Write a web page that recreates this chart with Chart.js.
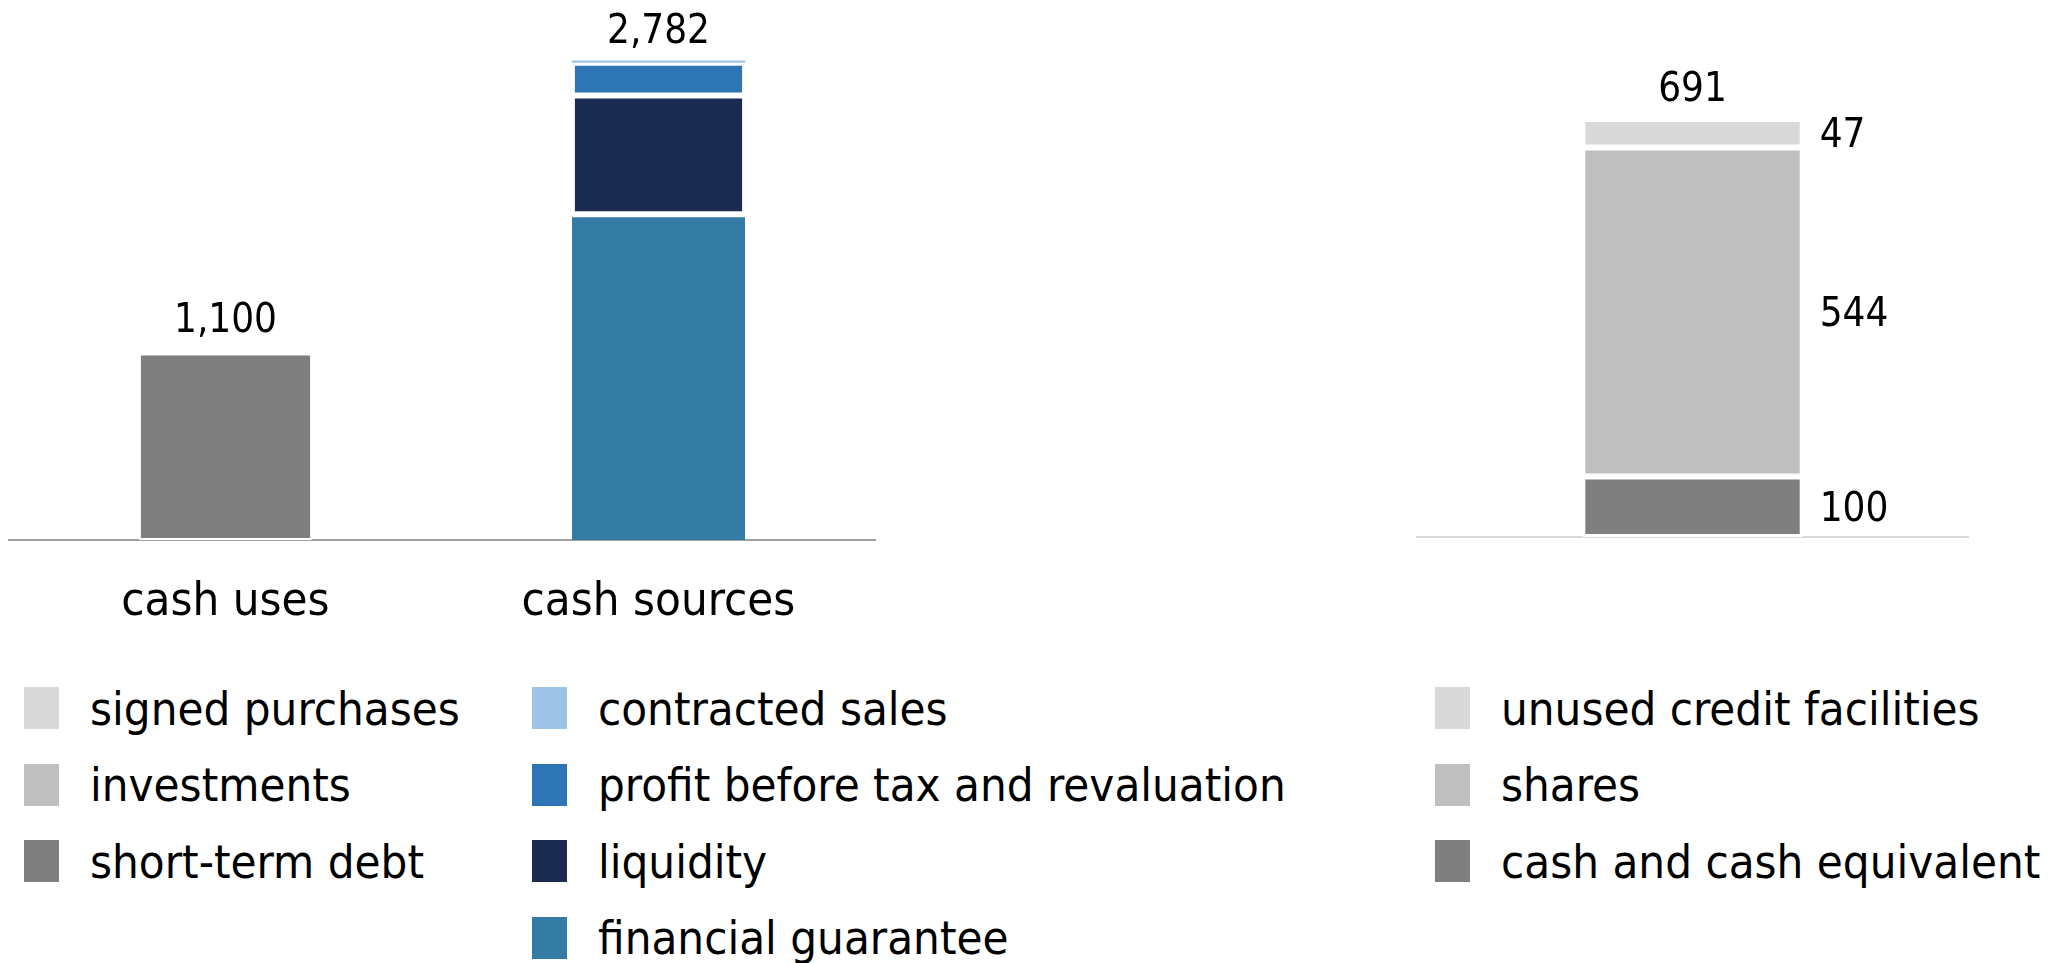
<!DOCTYPE html>
<html>
<head>
<meta charset="utf-8">
<title>Cash uses and sources</title>
<script src="https://cdn.jsdelivr.net/npm/chart.js@4.4.1/dist/chart.umd.min.js"></script>
<style>
    body { margin: 0; background: #fff; width: 2061px; height: 963px; overflow: hidden; position: relative; }
    canvas { position: absolute; top: 0; }
    #left-chart { left: 0; }
    #right-chart { left: 1400px; }
    .legend { position: absolute; top: 687px; font-family: 'DejaVu Sans Condensed', 'DejaVu Sans', sans-serif; font-stretch: condensed; font-size: 47px; color: #000; }
    .legend .item { display: flex; align-items: center; height: 42px; margin-bottom: 34.5px; white-space: nowrap; line-height: 1; }
    .legend .sw { width: 35px; height: 42px; margin-right: 31px; flex: none; }
</style>
</head>
<body>
<canvas id="left-chart" width="890" height="650"></canvas>
<canvas id="right-chart" width="661" height="560"></canvas>
<div class="legend" id="legend-uses" style="left:24px"></div>
<div class="legend" id="legend-sources" style="left:532px"></div>
<div class="legend" id="legend-liquid" style="left:1435px"></div>

<script>
// left chart: cash uses vs cash sources
const leftCategories = ['cash uses', 'cash sources'];
const signedPurchases = [null, null];
const investments = [null, null];
const shortTermDebt = [1100, null];
const contractedSales = [null, 12];
const profitBeforeTax = [null, 190];
const liquidity = [null, 690];
const financialGuarantee = [null, 1890];

// right chart: available liquid resources
const rightCategories = [''];
const cashEquivalent = [100];
const shares = [544];
const unusedCredit = [47];

const FONT = "'DejaVu Sans Condensed', 'DejaVu Sans', sans-serif";

function fmt(v) {
    return v.toLocaleString('en-US');
}

// total on top of each stacked column
const totalsPlugin = {
    id: 'totals',
    afterDatasetsDraw(chart) {
        const ctx = chart.ctx;
        const yScale = chart.scales.y;
        const n = chart.data.labels.length;
        ctx.save();
        ctx.font = '40px ' + FONT;
        ctx.fillStyle = '#000';
        ctx.textAlign = 'center';
        ctx.textBaseline = 'alphabetic';
        for (let i = 0; i < n; i++) {
            let sum = 0;
            chart.data.datasets.forEach(ds => { sum += ds.data[i] || 0; });
            if (!sum) continue;
            const x = chart.scales.x.getPixelForValue(i);
            const top = yScale.getPixelForValue(sum);
            ctx.fillText(fmt(sum), x, top - 18);
        }
        ctx.restore();
    }
};

// value of every segment written to the right of the column
const segmentLabels = {
    id: 'segmentLabels',
    afterDatasetsDraw(chart) {
        const ctx = chart.ctx;
        ctx.save();
        ctx.font = '40px ' + FONT;
        ctx.fillStyle = '#000';
        ctx.textAlign = 'left';
        ctx.textBaseline = 'alphabetic';
        chart.data.datasets.forEach((ds, di) => {
            const meta = chart.getDatasetMeta(di);
            meta.data.forEach((bar, i) => {
                if (ds.data[i] == null) return;
                const mid = (bar.y + bar.base) / 2;
                ctx.fillText(fmt(ds.data[i]), bar.x + bar.width / 2 + 17, mid + 14);
            });
        });
        ctx.restore();
    }
};

const white = '#ffffff';
const allSides = { top: 3, bottom: 3, left: 3, right: 3 };

const leftDatasets = [
    { label: 'financial guarantee', data: financialGuarantee, backgroundColor: '#347ca3', borderColor: white, borderWidth: { top: 3, bottom: 0, left: 0, right: 0 } },
    { label: 'liquidity', data: liquidity, backgroundColor: '#1b2a51', borderColor: white, borderWidth: allSides },
    { label: 'profit before tax and revaluation', data: profitBeforeTax, backgroundColor: '#2e75b6', borderColor: white, borderWidth: allSides },
    { label: 'contracted sales', data: contractedSales, backgroundColor: '#9dc3e6', borderWidth: 0 },
    { label: 'short-term debt', data: shortTermDebt, backgroundColor: '#7f7f7f', borderColor: white, borderWidth: { top: 5, bottom: 2, left: 2, right: 2 } },
    { label: 'investments', data: investments, backgroundColor: '#bfbfbf', borderColor: white, borderWidth: allSides },
    { label: 'signed purchases', data: signedPurchases, backgroundColor: '#d9d9d9', borderColor: white, borderWidth: allSides }
];

const rightDatasets = [
    { label: 'cash and cash equivalent', data: cashEquivalent, backgroundColor: '#7f7f7f', borderColor: white, borderWidth: allSides },
    { label: 'shares', data: shares, backgroundColor: '#bfbfbf', borderColor: white, borderWidth: allSides },
    { label: 'unused credit facilities', data: unusedCredit, backgroundColor: '#d9d9d9', borderColor: white, borderWidth: allSides }
];

[...leftDatasets, ...rightDatasets].forEach(ds => {
    ds.borderSkipped = false;
    ds.barPercentage = 0.4;
    ds.categoryPercentage = 1;
});

const leftChart = new Chart(document.getElementById('left-chart'), {
    type: 'bar',
    data: { labels: leftCategories, datasets: leftDatasets },
    options: {
        responsive: false,
        animation: false,
        layout: { padding: { left: 9, right: 15, top: 23, bottom: 10 } },
        plugins: { legend: { display: false }, tooltip: { enabled: false } },
        scales: {
            x: {
                stacked: true,
                grid: { display: false, drawTicks: false },
                border: { color: '#a0a0a0', width: 2 },
                ticks: { color: '#000', font: { family: FONT, size: 47 }, padding: 35 },
                afterFit: function(scale) { scale.height = 100; }
            },
            y: { stacked: true, display: false, min: 0, max: 3000 }
        }
    },
    plugins: [totalsPlugin]
});

const rightChart = new Chart(document.getElementById('right-chart'), {
    type: 'bar',
    data: { labels: rightCategories, datasets: rightDatasets },
    options: {
        responsive: false,
        animation: false,
        layout: { padding: { left: 17, right: 93, top: 53, bottom: 23 } },
        plugins: { legend: { display: false }, tooltip: { enabled: false } },
        scales: {
            x: {
                stacked: true,
                grid: { display: false, drawTicks: false },
                border: { color: '#d9d9d9', width: 2 },
                ticks: { display: false },
                afterFit: function(scale) { scale.height = 0; }
            },
            y: { stacked: true, display: false, min: 0, max: 800 }
        }
    },
    plugins: [totalsPlugin, segmentLabels]
});

// html legends, built from the chart datasets
function buildLegend(id, chart, labels) {
    const el = document.getElementById(id);
    labels.forEach(name => {
        const ds = chart.data.datasets.find(d => d.label === name);
        const row = document.createElement('div');
        row.className = 'item';
        const sw = document.createElement('span');
        sw.className = 'sw';
        sw.style.background = ds.backgroundColor;
        const txt = document.createElement('span');
        txt.textContent = ds.label;
        row.appendChild(sw);
        row.appendChild(txt);
        el.appendChild(row);
    });
}

buildLegend('legend-uses', leftChart, ['signed purchases', 'investments', 'short-term debt']);
buildLegend('legend-sources', leftChart, ['contracted sales', 'profit before tax and revaluation', 'liquidity', 'financial guarantee']);
buildLegend('legend-liquid', rightChart, ['unused credit facilities', 'shares', 'cash and cash equivalent']);
</script>
</body>
</html>
